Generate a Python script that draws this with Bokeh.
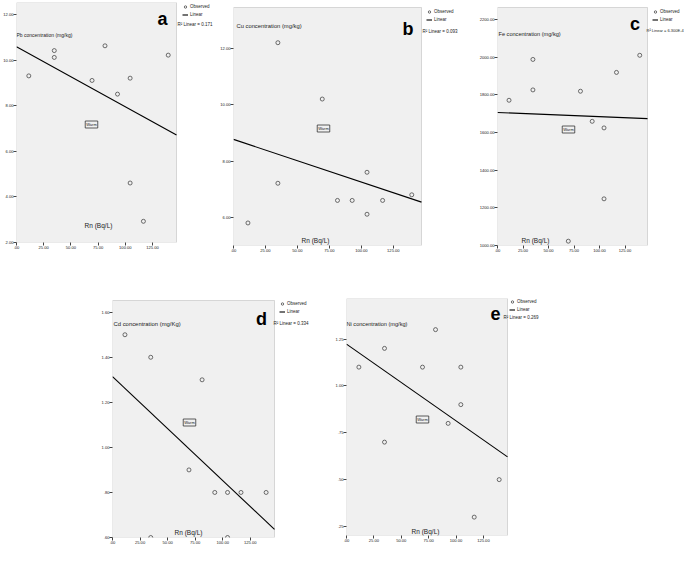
import numpy as np
from bokeh.plotting import figure
from bokeh.models import (Label, Legend, LegendItem, FixedTicker, Range1d, Spacer,
                          CustomJSTickFormatter, BoxAnnotation)
from bokeh.layouts import row, column
from bokeh.embed import file_html
from bokeh.resources import INLINE

# ---------------- data ----------------
rn = [11.3, 34.7, 34.7, 69.4, 81.3, 92.8, 104.4, 104.4, 116.6, 139.4]
pb = [9.31, 10.42, 10.12, 9.11, 10.63, 8.51, 9.21, 4.61, 2.93, 10.22]
cu = [5.80, 12.20, 7.21, 10.20, 6.60, 6.60, 7.60, 6.11, 6.60, 6.80]
fe = [1772, 1989, 1827, 1023, 1820, 1660, 1625, 1248, 1920, 2011]
cd = [1.50, 1.40, 0.60, 0.90, 1.30, 0.80, 0.80, 0.60, 0.80, 0.80]
ni = [1.10, 1.20, 0.70, 1.10, 1.30, 0.80, 1.10, 0.90, 0.30, 0.50]

x_ticks = [0, 25, 50, 75, 100, 125]
pb_ticks = [2, 4, 6, 8, 10, 12]
cu_ticks = [6, 8, 10, 12]
fe_ticks = [1000, 1200, 1400, 1600, 1800, 2000, 2200]
cd_ticks = [0.6, 0.8, 1.0, 1.2, 1.4, 1.6]
ni_ticks = [0.25, 0.5, 0.75, 1.0, 1.25]

y_titles = ["Pb concentration (mg/kg)", "Cu concentration (mg/kg)",
            "Fe concentration (mg/kg)", "Cd concentration (mg/Kg)",
            "Ni concentration (mg/kg)"]
letters = ["a", "b", "c", "d", "e"]
r2_texts = ["R\u00b2 Linear = 0.171", "R\u00b2 Linear = 0.093",
            "R\u00b2 Linear = 6.300E-4", "R\u00b2 Linear = 0.334",
            "R\u00b2 Linear = 0.269"]
x_title = "Rn (Bq/L)"
group_text = "Warm"
legend_labels = ["Observed", "Linear"]

# ---------------- styling / layout ----------------
X_MAX = 147
FONT = "Liberation Sans"
PLOT_BG = "#f0f0f0"
FRAME = "#8a8a8a"
FMT = "const s = tick.toFixed(2); return s.startsWith('0.') ? s.slice(1) : s;"


def make_panel(yvals, yticks, yrange, ytitle, letter, r2, lay):
    # L: left border, fw: plot-area width, E: legend strip width to the right,
    # T: top border, pad: white gap between frame top and plot-area top,
    # fh: plot-area height, B: bottom border
    L, fw, E, T, pad, fh, B = lay["box"]
    y0, y1 = yrange
    x_end = X_MAX * (fw + E) / fw
    y_end = y1 + pad * (y1 - y0) / fh
    p = figure(frame_width=fw + E, frame_height=fh + pad, min_border_left=L,
               min_border_right=0, min_border_top=T, min_border_bottom=B, title=None,
               x_range=Range1d(0, x_end), y_range=Range1d(y0, y_end),
               output_backend="svg", toolbar_location=None, tools="",
               background_fill_color="white", border_fill_color="white",
               outline_line_color=None)
    p.grid.visible = False
    p.add_layout(BoxAnnotation(left=0, right=X_MAX, bottom=y0, top=y1,
                               fill_color=PLOT_BG, fill_alpha=1, line_color=FRAME,
                               line_width=1, level="underlay"))
    for ax, ticks in ((p.xaxis[0], x_ticks), (p.yaxis[0], yticks)):
        ax.ticker = FixedTicker(ticks=ticks)
        ax.formatter = CustomJSTickFormatter(code=FMT)
        ax.major_label_text_font = FONT
        ax.major_label_text_font_size = "4.1px"
        ax.major_label_text_color = "#222222"
        ax.major_tick_out = 3
        ax.major_tick_in = 0
        ax.minor_tick_line_color = None
        ax.major_tick_line_color = "#444444"
        ax.axis_line_color = None
        ax.major_label_standoff = 0

    sc = p.scatter(rn, yvals, size=4, marker="circle", fill_color=None,
                   line_color="#333333", line_width=0.7)
    coef = np.polyfit(rn, yvals, 1)
    xf = np.array([0.0, X_MAX])
    ln = p.line(xf, np.polyval(coef, xf), line_color="black", line_width=1.1)

    def lab(x, y, text, size, **kw):
        p.add_layout(Label(x=x, y=fh - y, x_units="screen", y_units="screen",
                           text=text, text_font=FONT, text_font_size=size, **kw))

    lx, ly = lay["letter"]
    lab(lx, ly, letter, "18px", text_font_style="bold", text_align="center",
        text_baseline="alphabetic", text_color="black")
    tx, ty = lay["ytitle"]
    lab(tx, ty, ytitle, lay.get("tsize", "5.5px"), text_baseline="middle", text_color="#222222")
    rx, ry = lay["xtitle"]
    lab(rx, ry, x_title, "6.5px", text_align="center", text_baseline="middle",
        text_color="#222222")
    wx, wy = lay["warm"]
    lab(wx, wy, group_text, "4px", text_align="center", text_baseline="middle",
        text_color="#222222", border_line_color="#333333", border_line_width=0.8,
        background_fill_color=PLOT_BG, padding=1)
    qx, qy = lay["r2"]
    lab(qx, qy, r2, lay.get("r2size", "4.5px"), text_baseline="middle", text_color="#222222")

    gx, gy = lay["legend"]
    leg = Legend(items=[LegendItem(label=legend_labels[0], renderers=[sc]),
                        LegendItem(label=legend_labels[1], renderers=[ln])],
                 location=(gx, fh - gy - 15), margin=0, padding=0, spacing=1,
                 glyph_width=6, glyph_height=7, label_height=7, label_width=10,
                 label_standoff=2, label_text_font=FONT, label_text_font_size="4.5px",
                 label_text_color="#222222", border_line_color=None,
                 background_fill_alpha=0)
    p.add_layout(leg)
    return p


layouts = [
    dict(box=(16, 160, 39, 2, 0, 240, 20), letter=(146, 16), ytitle=(0, 32), xtitle=(82, 223),
         warm=(75, 122), legend=(166, 0.5), r2=(161, 22), tsize="5px"),
    dict(box=(18, 188, 49, 2, 5, 238, 17), letter=(174.5, 21), ytitle=(3, 18), xtitle=(82, 233),
         warm=(90, 121), legend=(193, 1), r2=(189, 24), tsize="5.8px"),
    dict(box=(27, 150, 37, 2, 5, 238, 17), letter=(137.5, 16), ytitle=(1, 26), xtitle=(38, 233),
         warm=(71, 122), legend=(155, 0.5), r2=(149, 23), tsize="5.6px", r2size="4px"),
    dict(box=(22, 162, 46, 36, 2, 237, 25), letter=(149, 18), ytitle=(1, 23), xtitle=(76, 232),
         warm=(77, 122), legend=(167, 0), r2=(161, 23), tsize="5.9px"),
    dict(box=(26, 161, 50, 36, 0, 237, 27), letter=(149, 15), ytitle=(0, 25), xtitle=(79, 233),
         warm=(76, 121), legend=(163, 0), r2=(157, 19), tsize="5.6px"),
]

specs = [
    (pb, pb_ticks, (2.0, 12.53)),
    (cu, cu_ticks, (5.0, 13.45)),
    (fe, fe_ticks, (1000, 2265)),
    (cd, cd_ticks, (0.6, 1.652)),
    (ni, ni_ticks, (0.202, 1.466)),
]

figs = [make_panel(v, t, r, y_titles[i], letters[i], r2_texts[i], layouts[i])
        for i, (v, t, r) in enumerate(specs)]

root = column(row(figs[0], figs[1], figs[2]),
              row(Spacer(width=90, height=300), figs[3], figs[4]))

open("out.html", "w").write(file_html(root, INLINE))
